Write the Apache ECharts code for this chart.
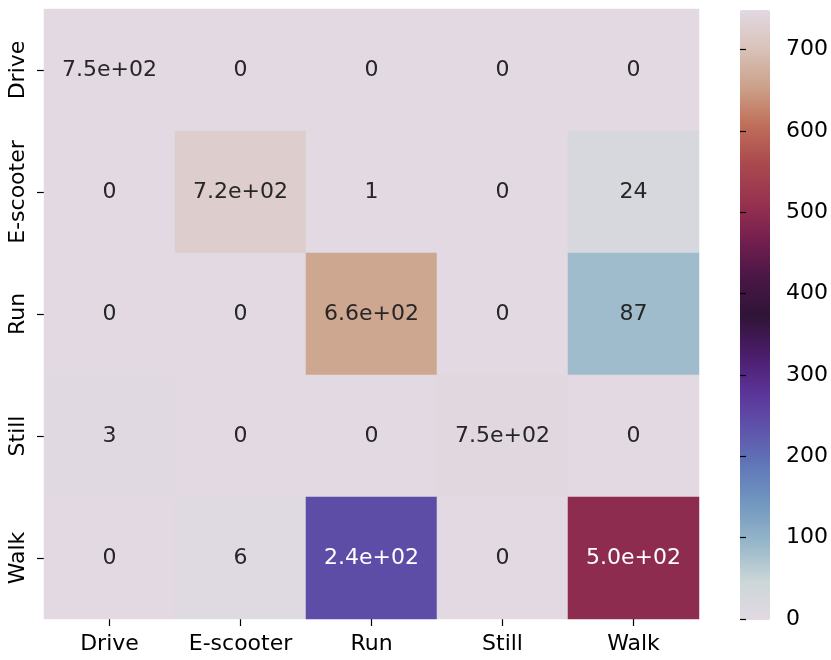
<!DOCTYPE html>
<html>
<head>
<meta charset="utf-8">
<script src="https://cdn.jsdelivr.net/npm/echarts@6/dist/echarts.min.js"></script>
<style>
  html, body { margin: 0; padding: 0; background: #fff; }
  #chart { width: 831px; height: 660px; }
</style>
</head>
<body>
<div id="chart"></div>
<script>
// confusion matrix, rows = true class, cols = predicted class
var classes = ['Drive', 'E-scooter', 'Run', 'Still', 'Walk'];
var rowDrive    = [750, 0, 0, 0, 0];
var rowEscooter = [0, 724, 1, 0, 24];
var rowRun      = [0, 0, 663, 0, 87];
var rowStill    = [3, 0, 0, 747, 0];
var rowWalk     = [0, 6, 244, 0, 500];
var colorbarStep = 100;
var vMin = 0, vMax = 750;

var rows = [rowDrive, rowEscooter, rowRun, rowStill, rowWalk];

// twilight-like colormap, evenly spaced stops
var twilight = ['#e2d9e2', '#ccd7d8', '#97b7ca', '#7399c0', '#6179b9', '#5f54ab',
                '#5b3399', '#4a1c68', '#2f1436', '#4a1746', '#761f4f', '#99334f',
                '#aa4a4e', '#c0705a', '#cca28a', '#d9c3ba', '#e2d9e2'];

// seaborn style ".2g" annotation
function fmt(v) {
    if (Math.abs(v) >= 100) {
        var s = v.toExponential(1);
        return s.replace(/e([+-])(\d)$/, 'e$10$2');
    }
    return String(v);
}

var data = [];
rows.forEach(function (r, i) {
    r.forEach(function (v, j) {
        var dark = v > 150 && v < 620;
        data.push({
            value: [j, i, v],
            label: { color: dark ? '#ffffff' : '#262626' }
        });
    });
});

var font = 'DejaVu Sans';
var chart = echarts.init(document.getElementById('chart'));
chart.setOption({
    animation: false,
    backgroundColor: '#ffffff',
    textStyle: { fontFamily: font },
    grid: [
        { left: 44, top: 9, width: 655, height: 610 },
        { left: 740, top: 9, width: 30, height: 610 }
    ],
    xAxis: [{
        type: 'category',
        data: classes,
        gridIndex: 0,
        axisLine: { show: false },
        axisTick: { show: true, alignWithLabel: true, interval: 0, length: 7, lineStyle: { color: '#000', width: 1.2 } },
        axisLabel: { color: '#000', fontSize: 22, fontFamily: font, margin: 14, interval: 0 },
        splitLine: { show: false }
    }, {
        type: 'value',
        gridIndex: 1,
        show: false
    }],
    yAxis: [{
        type: 'category',
        data: classes,
        inverse: true,
        gridIndex: 0,
        axisLine: { show: false },
        axisTick: { show: true, alignWithLabel: true, interval: 0, length: 7, lineStyle: { color: '#000', width: 1.2 } },
        axisLabel: { color: '#000', fontSize: 22, fontFamily: font, rotate: 90, margin: 15, interval: 0 },
        splitLine: { show: false }
    }, {
        type: 'value',
        gridIndex: 1,
        position: 'right',
        z: 10,
        min: vMin,
        max: vMax,
        interval: colorbarStep,
        axisLine: { show: false },
        axisTick: { show: true, length: 6, lineStyle: { color: '#000', width: 1.2 } },
        axisLabel: { color: '#000', fontSize: 22, fontFamily: font, margin: 16, showMaxLabel: false },
        splitLine: { show: false }
    }],
    visualMap: {
        type: 'continuous',
        min: vMin,
        max: vMax,
        seriesIndex: 0,
        orient: 'vertical',
        calculable: false,
        realtime: false,
        itemWidth: 30,
        itemHeight: 610,
        left: 725,
        top: -5,
        z: 2,
        text: null,
        showLabel: false,
        inRange: { color: twilight }
    },
    series: [{
        type: 'heatmap',
        xAxisIndex: 0,
        yAxisIndex: 0,
        data: data,
        label: {
            show: true,
            fontSize: 22,
            fontFamily: font,
            formatter: function (p) { return fmt(p.value[2]); }
        },
        itemStyle: { borderWidth: 0 },
        emphasis: { disabled: true }
    }]
});
</script>
</body>
</html>
